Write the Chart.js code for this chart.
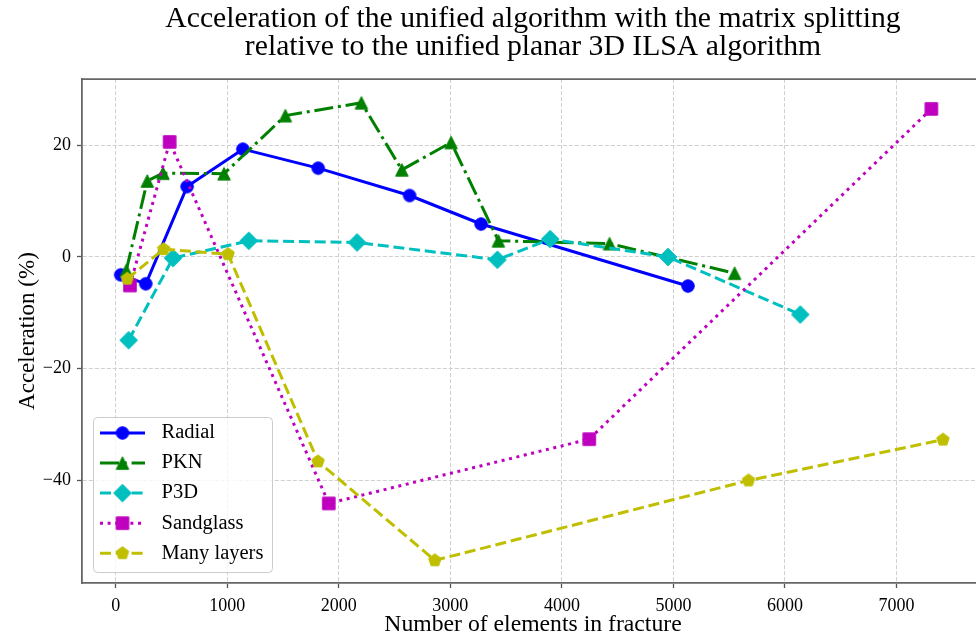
<!DOCTYPE html>
<html><head><meta charset="utf-8">
<script src="https://cdn.jsdelivr.net/npm/chart.js@4/dist/chart.umd.min.js"></script>
<style>
html,body{margin:0;padding:0;overflow:hidden;background:#fff;width:976px;height:639px}
#wrap{width:1000px;height:639px;position:relative}
</style></head>
<body><div id="wrap"><canvas id="c" width="1000" height="639" style="width:1000px;height:639px"></canvas></div>
<script>
// ---- data ----
const seriesNames = ['Radial', 'PKN', 'P3D', 'Sandglass', 'Many layers'];
const radialX = [45, 270, 640, 1140, 1815, 2635, 3275, 5130];
const radialY = [-3.2, -4.8, 12.6, 19.3, 15.9, 11.0, 5.9, -5.2];
const pknX = [95, 283, 424, 971, 1521, 2203, 2565, 3007, 3431, 4427, 5548];
const pknY = [-2.4, 13.6, 15.0, 14.9, 25.3, 27.6, 15.6, 20.5, 2.9, 2.4, -2.9];
const p3dX = [116, 514, 1193, 2164, 3422, 3895, 4951, 6137];
const p3dY = [-14.9, -0.2, 2.9, 2.6, -0.5, 3.2, 0.0, -10.3];
const sandX = [128, 484, 1910, 4245, 7312];
const sandY = [-5.1, 20.6, -44.1, -32.6, 26.5];
const manyX = [104, 430, 1007, 1814, 2861, 5673, 7416];
const manyY = [-3.9, 1.4, 0.5, -36.6, -54.3, -40.0, -32.7];
const xTicks = [0, 1000, 2000, 3000, 4000, 5000, 6000, 7000];
const yTicks = [-40, -20, 0, 20];
const titleLines = ['Acceleration of the unified algorithm with the matrix splitting',
                    'relative to the unified planar 3D ILSA algorithm'];
const xTitle = 'Number of elements in fracture';
const yTitle = 'Acceleration (%)';

// ---- styles ----
const FONT = 'Liberation Serif';
const colors = ['#0000ff', '#008000', '#00bfbf', '#bf00bf', '#bfbf00'];
const dashes = [[], [19, 4.8, 3, 4.8], [11, 4.8], [3, 4.6], [11, 4.8]];
const shapes = ['circle', 'triangle', 'diamond', 'square', 'pentagon'];
const xs = [radialX, pknX, p3dX, sandX, manyX];
const ys = [radialY, pknY, p3dY, sandY, manyY];

function makeMarker(shape, color, size) {
  const dim = 24;
  const c = document.createElement('canvas');
  c.width = dim; c.height = dim;
  const g = c.getContext('2d');
  const cx = dim / 2, cy = dim / 2, h = size / 2;
  g.beginPath();
  if (shape === 'circle') g.arc(cx, cy, h, 0, 2 * Math.PI);
  else if (shape === 'square') g.rect(cx - h, cy - h, size, size);
  else if (shape === 'diamond') { const d = h * Math.SQRT2; g.moveTo(cx, cy - d); g.lineTo(cx + d, cy); g.lineTo(cx, cy + d); g.lineTo(cx - d, cy); }
  else if (shape === 'triangle') { g.moveTo(cx, cy - h); g.lineTo(cx + h, cy + h); g.lineTo(cx - h, cy + h); }
  else if (shape === 'pentagon') {
    const r = h * 1.05;
    for (let i = 0; i < 5; i++) { const a = -Math.PI / 2 + i * 2 * Math.PI / 5; const px = cx + r * Math.cos(a), py = cy + r * Math.sin(a); if (i === 0) g.moveTo(px, py); else g.lineTo(px, py); }
  }
  g.closePath();
  g.fillStyle = color; g.fill();
  g.lineWidth = 1; g.strokeStyle = color; g.stroke();
  return c;
}
const markers = shapes.map((s, i) => makeMarker(s, colors[i], 12.5));

const datasets = seriesNames.map((name, i) => ({
  label: name,
  data: xs[i].map((v, j) => ({ x: v, y: ys[i][j] })),
  showLine: true,
  borderColor: colors[i],
  backgroundColor: colors[i],
  borderWidth: 3,
  borderDash: dashes[i],
  borderCapStyle: 'butt',
  borderJoinStyle: 'round',
  pointStyle: markers[i],
  pointRadius: 7,
  pointHoverRadius: 7,
  tension: 0,
  fill: false,
  order: 5 - i
}));

const fmt = v => (v < 0 ? '\u2212' + Math.abs(v) : String(v));

const mplPlugin = {
  id: 'mplExtras',
  afterDraw(chart) {
    const ctx = chart.ctx, a = chart.chartArea;
    ctx.save();
    // top & right spines
    ctx.strokeStyle = '#666'; ctx.lineWidth = 1.8; ctx.setLineDash([]);
    ctx.beginPath();
    ctx.moveTo(a.left - 0.9, a.top); ctx.lineTo(a.right, a.top); ctx.lineTo(a.right, a.bottom);
    ctx.stroke();
    // legend
    const bx = a.left + 11.5, bw = 179, bh = 155, by = a.bottom - 10.5 - bh;
    ctx.beginPath();
    ctx.roundRect(bx, by, bw, bh, 4);
    ctx.fillStyle = 'rgba(255,255,255,0.8)'; ctx.fill();
    ctx.strokeStyle = '#cccccc'; ctx.lineWidth = 1; ctx.stroke();
    ctx.font = '20.5px "' + FONT + '"';
    ctx.textBaseline = 'middle'; ctx.textAlign = 'left'; ctx.fillStyle = '#000';
    seriesNames.forEach((name, i) => {
      const ry = by + 15.5 + i * 30.05;
      ctx.save();
      ctx.strokeStyle = colors[i]; ctx.lineWidth = 3; ctx.lineCap = 'butt';
      ctx.setLineDash(dashes[i]);
      ctx.beginPath(); ctx.moveTo(bx + 6.5, ry); ctx.lineTo(bx + 51.5, ry); ctx.stroke();
      ctx.restore();
      const m = markers[i];
      ctx.drawImage(m, bx + 29 - m.width / 2, ry - m.height / 2);
      ctx.fillText(name, bx + 68, ry);
    });
    ctx.restore();
  }
};

new Chart(document.getElementById('c'), {
  type: 'scatter',
  data: { datasets },
  plugins: [mplPlugin],
  options: {
    responsive: false, animation: false, devicePixelRatio: 1, events: [],
    layout: { padding: { left: 0, right: 16, top: 0, bottom: 0 } },
    plugins: {
      legend: { display: false }, tooltip: { enabled: false },
      title: {
        display: true, fullSize: false, text: titleLines, color: '#000',
        font: { family: FONT, size: 29.7, weight: 'normal', lineHeight: 0.945 },
        padding: { top: 5, bottom: 18 }
      }
    },
    scales: {
      x: {
        type: 'linear', min: -302, max: 7784,
        afterBuildTicks: s => { s.ticks = xTicks.map(v => ({ value: v })); },
        afterFit: s => { s.height = 56; },
        ticks: { font: { family: FONT, size: 18 }, color: '#000', padding: 7, maxRotation: 0, autoSkip: false, callback: v => fmt(v) },
        grid: { color: '#d0d0d0', lineWidth: 1, tickColor: '#555', tickLength: 5, tickWidth: 1.3 },
        border: { display: true, color: '#666', width: 1.8, dash: [4, 2] },
        title: { display: true, text: xTitle, color: '#000', font: { family: FONT, size: 23.7 }, padding: { top: 0, bottom: 0 } }
      },
      y: {
        type: 'linear', min: -58.35, max: 31.83,
        afterBuildTicks: s => { s.ticks = yTicks.map(v => ({ value: v })); },
        afterFit: s => { s.width = 82; },
        ticks: { font: { family: FONT, size: 18 }, color: '#000', padding: 6, autoSkip: false, callback: v => fmt(v) },
        grid: { color: '#d0d0d0', lineWidth: 1, tickColor: '#555', tickLength: 5, tickWidth: 1.3 },
        border: { display: true, color: '#666', width: 1.8, dash: [4, 2] },
        title: { display: true, text: yTitle, color: '#000', font: { family: FONT, size: 23 }, padding: { top: 14, bottom: 0 } }
      }
    }
  }
});
</script>
</body></html>
